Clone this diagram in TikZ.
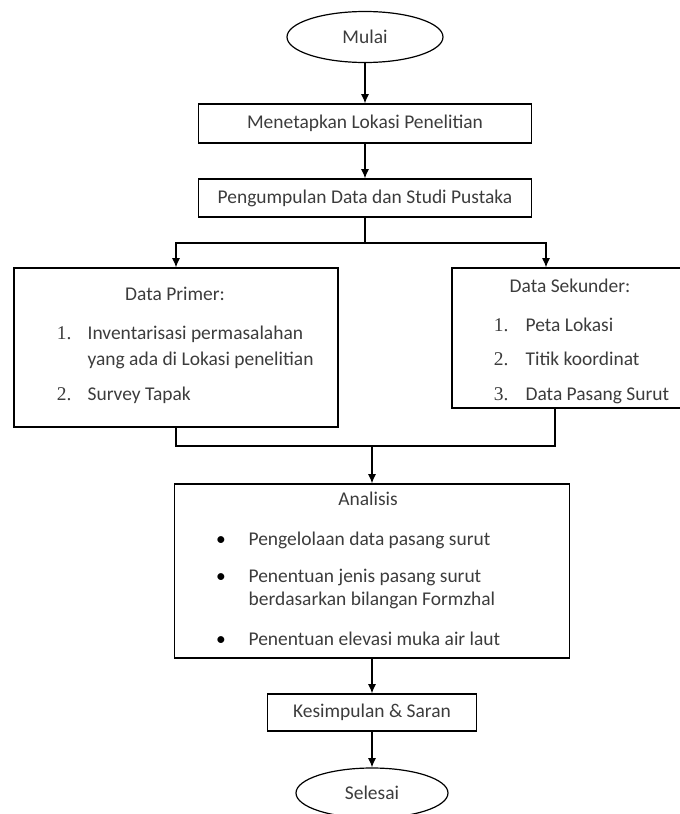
\documentclass[tikz,border=0pt]{standalone}
\usepackage{fontspec}
\setmainfont{Carlito}
\newfontfamily\angkafont{Liberation Serif}
\usepackage{tikz}
\definecolor{teksabu}{RGB}{60,60,60}
\usetikzlibrary{shapes.geometric, arrows.meta}

\begin{document}
\begin{tikzpicture}[x=0.75pt, y=-0.75pt,
				>={Latex[length=7pt,width=6pt]},   %Pfeilspitzen
				line width=0.9pt,
				font=\fontsize{14.6}{17.5}\selectfont,
				oval/.style={draw, ellipse, inner sep=0pt, text=teksabu},
				kotak/.style={draw, rectangle, inner sep=0pt, text=teksabu},
				isi/.style={anchor=mid west, inner sep=0pt, text=teksabu},
				judul/.style={anchor=mid, inner sep=0pt, text=teksabu},
				nomor/.style={anchor=mid east, inner sep=0pt, text=teksabu, font=\fontsize{14.6}{17.5}\angkafont},
				titik/.style={anchor=mid, inner sep=0pt}]
				%Bildbereich
				\useasboundingbox (0,0) rectangle (679,814);
				% Start und erste Schritte
				\node[oval, minimum width=117pt, minimum height=38.25pt] (mulai) at (365,37) {Mulai};
				\node[kotak, minimum width=249.75pt, minimum height=29.25pt] (lokasi) at (365,123.5) {Menetapkan Lokasi Penelitian};
				\node[kotak, minimum width=249.75pt, minimum height=28.5pt] (data) at (365,198) {Pengumpulan Data dan Studi Pustaka};
				% Datenboxen
				\node[kotak, minimum width=243pt, minimum height=119.25pt] (primer) at (176,347.5) {};
				\node[kotak, minimum width=172.5pt, minimum height=105pt] (sekunder) at (567,338) {};
				\node[judul] (primerJudul) at (175,297) {Data Primer:};
				\node[nomor] (primerNo1) at (72,336) {1.};
				\node[isi] (primer1a) at (87,336) {Inventarisasi permasalahan};
				\node[isi] (primer1b) at (87,362) {yang ada di Lokasi penelitian};
				\node[nomor] (primerNo2) at (72,397) {2.};
				\node[isi] (primer2) at (87,397) {Survey Tapak};
				\node[judul] (sekunderJudul) at (570,289) {Data Sekunder:};
				\node[nomor] (sekunderNo1) at (509,328) {1.};
				\node[isi] (sekunder1) at (525,328) {Peta Lokasi};
				\node[nomor] (sekunderNo2) at (509,362) {2.};
				\node[isi] (sekunder2) at (525,362) {Titik koordinat};
				\node[nomor] (sekunderNo3) at (509,397) {3.};
				\node[isi] (sekunder3) at (525,397) {Data Pasang Surut};
				% Analyse
				\node[kotak, minimum width=296.25pt, minimum height=130.5pt] (analisis) at (372,571) {};
				\node[judul] (analisisJudul) at (368,502) {Analisis};
				\node[titik] (titik1) at (221,542) {\textbullet};
				\node[isi] (analisis1) at (248,542) {Pengelolaan data pasang surut};
				\node[titik] (titik2) at (221,579) {\textbullet};
				\node[isi] (analisis2a) at (248,579) {Penentuan jenis pasang surut};
				\node[isi] (analisis2b) at (248,602) {berdasarkan bilangan Formzhal};
				\node[titik] (titik3) at (221,642) {\textbullet};
				\node[isi] (analisis3) at (248,642) {Penentuan elevasi muka air laut};
				% Ende
				\node[kotak, minimum width=156.75pt, minimum height=27.75pt] (kesimpulan) at (372,712.5) {Kesimpulan \& Saran};
				\node[oval, minimum width=114pt, minimum height=37.5pt] (selesai) at (372,793) {Selesai};
				% Pfeile
				\coordinate (cabang) at (365,243);
				\coordinate (gabung) at (372,446);
				\draw[->] (mulai) -- (lokasi);
				\draw[->] (lokasi) -- (data);
				\draw (data) -- (cabang);
				\draw[->] (cabang) -| (primer);
				\draw[->] (cabang) -| ([xshift=-15.75pt]sekunder.north);
				\draw (primer) |- (gabung);
				\draw ([xshift=-9pt]sekunder.south) |- (gabung);
				\draw[->] (gabung) -- (analisis);
				\draw[->] (analisis) -- (kesimpulan);
				\draw[->] (kesimpulan) -- (selesai);
			\end{tikzpicture}
\end{document}
